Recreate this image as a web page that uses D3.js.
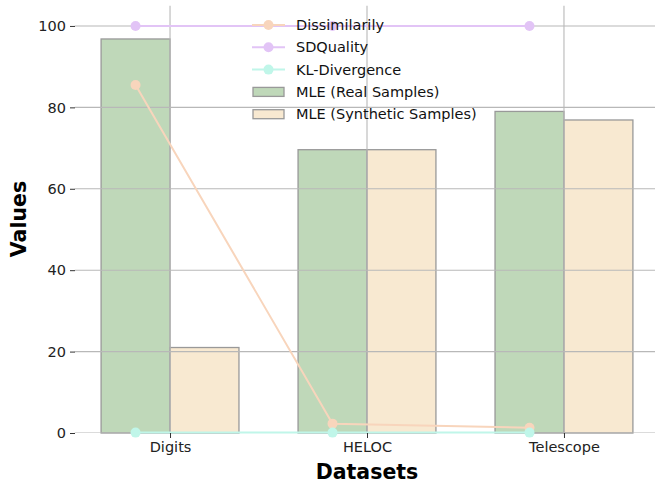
<!DOCTYPE html>
<html><head><meta charset="utf-8">
<script src="https://cdn.jsdelivr.net/npm/d3@7"></script>
<style>body{margin:0;background:#fff}svg{display:block}text{font-family:"DejaVu Sans",sans-serif}</style>
</head><body><svg id="c" width="655" height="483"></svg>
<script>
const categories = ["Digits", "HELOC", "Telescope"];
const mleReal = [96.8, 69.6, 79.0];
const mleSynthetic = [21.0, 69.6, 76.9];
const dissimilarity = [85.5, 2.3, 1.3];
const sdQuality = [100, 100, 100];
const klDivergence = [0.1, 0.1, 0.1];
const yTicks = [0, 20, 40, 60, 80, 100];

const svg = d3.select("#c");
const x = d3.scaleLinear().domain([-0.485, 2.485]).range([74.5, 659.5]);
const y = d3.scaleLinear().domain([0, 105]).range([433, 5.6]);
const bw = 0.35;
const colReal = "#bfd8b9", colSyn = "#f8e9d1", edge = "#999999";
const colDis = "#f8d5bc", colSDQ = "#e2c4f6", colKL = "#c0f6e9";
const fs = 14.5;

const g = svg.append("g");
svg.append("clipPath").attr("id","cp").append("rect").attr("x",74.5).attr("y",5.6).attr("width",585).attr("height",427.4);

// bars
categories.forEach((c,i)=>{
  g.append("rect").attr("x",x(i-bw)).attr("y",y(mleReal[i])).attr("width",x(i)-x(i-bw)).attr("height",y(0)-y(mleReal[i]))
   .attr("fill",colReal).attr("stroke",edge).attr("stroke-width",1.3);
  g.append("rect").attr("x",x(i)).attr("y",y(mleSynthetic[i])).attr("width",x(i+bw)-x(i)).attr("height",y(0)-y(mleSynthetic[i]))
   .attr("fill",colSyn).attr("stroke",edge).attr("stroke-width",1.3);
});

// grid
const grid = svg.append("g").attr("clip-path","url(#cp)");
yTicks.forEach(t=>grid.append("line").attr("x1",74.5).attr("x2",660).attr("y1",y(t)).attr("y2",y(t)).attr("stroke","#b8b8b8").attr("stroke-width",1.1));
categories.forEach((c,i)=>grid.append("line").attr("x1",x(i)).attr("x2",x(i)).attr("y1",5.6).attr("y2",433).attr("stroke","#b8b8b8").attr("stroke-width",1.1));

// lines
const line = d3.line().x((d,i)=>x(i-bw/2)).y(d=>y(d));
[[dissimilarity,colDis],[sdQuality,colSDQ],[klDivergence,colKL]].forEach(([data,col])=>{
  svg.append("path").datum(data).attr("d",line).attr("fill","none").attr("stroke",col).attr("stroke-width",2);
  svg.selectAll(null).data(data).enter().append("circle").attr("cx",(d,i)=>x(i-bw/2)).attr("cy",d=>y(d)).attr("r",5).attr("fill",col);
});

// axes
const ya = svg.append("g").attr("transform","translate(75,0)")
  .call(d3.axisLeft(y).tickValues(yTicks).tickSize(5).tickPadding(4));
ya.select(".domain").remove();
ya.selectAll("text").attr("font-size",fs).attr("fill","#222").attr("font-family","DejaVu Sans");
ya.selectAll("line").attr("stroke","#333");
const xa = svg.append("g").attr("transform","translate(0,433)")
  .call(d3.axisBottom(x).tickValues([0,1,2]).tickFormat(i=>categories[i]).tickSize(5).tickPadding(4));
xa.select(".domain").remove();
xa.selectAll("text").attr("font-size",fs).attr("fill","#222").attr("font-family","DejaVu Sans");
xa.selectAll("line").attr("stroke","#333");

svg.append("text").attr("x",367).attr("y",479).attr("text-anchor","middle").attr("font-size",20.5).attr("font-weight","bold").text("Datasets");
svg.append("text").attr("transform","translate(26,219) rotate(-90)").attr("text-anchor","middle").attr("font-size",20.5).attr("font-weight","bold").text("Values");

// legend
const legend = [
  {t:"Dissimilarily", type:"line", c:colDis},
  {t:"SDQuality", type:"line", c:colSDQ},
  {t:"KL-Divergence", type:"line", c:colKL},
  {t:"MLE (Real Samples)", type:"rect", c:colReal},
  {t:"MLE (Synthetic Samples)", type:"rect", c:colSyn}
];
legend.forEach((d,i)=>{
  const yy = 25 + i*22.3;
  if(d.type==="line"){
    svg.append("line").attr("x1",252).attr("x2",285).attr("y1",yy).attr("y2",yy).attr("stroke",d.c).attr("stroke-width",2);
    svg.append("circle").attr("cx",268.5).attr("cy",yy).attr("r",5).attr("fill",d.c);
  } else {
    svg.append("rect").attr("x",253).attr("y",yy-4.5).attr("width",31).attr("height",9).attr("fill",d.c).attr("stroke",edge).attr("stroke-width",1.3);
  }
  svg.append("text").attr("x",296).attr("y",yy+5).attr("font-size",fs).attr("fill","#111").text(d.t);
});
</script></body></html>
